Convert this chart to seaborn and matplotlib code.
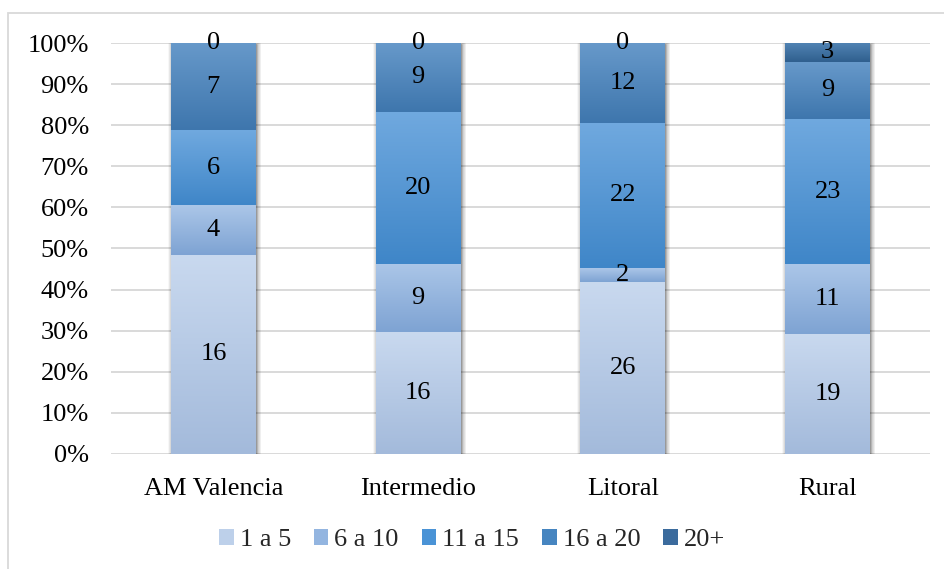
import numpy as np
import pandas as pd
import matplotlib
matplotlib.use("Agg")
import matplotlib.pyplot as plt
import matplotlib.transforms as mtransforms
import seaborn as sns
from matplotlib.colors import LinearSegmentedColormap
from matplotlib.patches import Rectangle, Patch
from matplotlib.ticker import PercentFormatter, MultipleLocator

# Data: number of cases per size band and territory
categories = ["AM Valencia", "Intermedio", "Litoral", "Rural"]
series = ["1 a 5", "6 a 10", "11 a 15", "16 a 20", "20+"]
counts_1_5 = [16, 16, 26, 19]
counts_6_10 = [4, 9, 2, 11]
counts_11_15 = [6, 20, 22, 23]
counts_16_20 = [7, 9, 12, 9]
counts_20plus = [0, 0, 0, 3]

# Gradient fills (top colour, bottom colour) and flat legend colours
grad_top = ["#c9d9ef", "#abc6e8", "#70a9df", "#6799ca", "#5183b3"]
grad_bottom = ["#a3badb", "#7ea3d3", "#3f86c8", "#3e76ad", "#2f5f8e"]
legend_colors = ["#bdd0ea", "#93b5e0", "#4a93d6", "#4685c0", "#3b6b9d"]

sns.set_theme(style="white")
plt.rcParams["font.family"] = ["Liberation Serif", "DejaVu Serif"]
FS = 19

df = pd.DataFrame(
    {
        series[0]: counts_1_5,
        series[1]: counts_6_10,
        series[2]: counts_11_15,
        series[3]: counts_16_20,
        series[4]: counts_20plus,
    },
    index=categories,
)
shares = df.div(df.sum(axis=1), axis=0)
bottoms = shares.cumsum(axis=1) - shares

fig = plt.figure(figsize=(9.44, 5.69), dpi=100)
ax = fig.add_axes([111 / 944, 1 - 454 / 569, 819 / 944, 411 / 569])

BAR_W = 0.415
for i, s in enumerate(series):
    sns.barplot(
        x=categories,
        y=shares[s].values,
        bottom=bottoms[s].values,
        color=legend_colors[i],
        width=BAR_W,
        errorbar=None,
        linewidth=0,
        zorder=3,
        ax=ax,
    )

# Vertical gradient inside every segment
grad = np.linspace(1, 0, 256).reshape(-1, 1)
for i, container in enumerate(ax.containers):
    cmap = LinearSegmentedColormap.from_list(f"g{i}", [grad_bottom[i], grad_top[i]])
    for patch in container.patches:
        h = patch.get_height()
        if h <= 0:
            continue
        x0, y0, w = patch.get_x(), patch.get_y(), patch.get_width()
        ax.imshow(grad, cmap=cmap, vmin=0, vmax=1, aspect="auto",
                  extent=[x0, x0 + w, y0, y0 + h], zorder=3.5,
                  interpolation="bicubic")

# Soft shadow behind each full column
px = 72 / 100  # one pixel in points
for j in range(len(categories)):
    x0 = j - BAR_W / 2
    off = mtransforms.offset_copy(ax.transData, fig=fig, x=1.0, y=-1.0, units="dots")
    for k in range(1, 9):
        ax.add_patch(Rectangle((x0, 0), BAR_W, 1, transform=off,
                               facecolor="#000000", edgecolor="#000000",
                               linewidth=k * px, alpha=0.03,
                               joinstyle="round", zorder=2.5))

# Value labels in the middle of each segment
for i, container in enumerate(ax.containers):
    labels = [str(v) for v in df[series[i]].values]
    txts = ax.bar_label(container, labels=labels, label_type="center",
                        fontsize=FS, color="black")
    for t in txts:
        t.set_zorder(6)

ax.set_xlim(-0.5, len(categories) - 0.5)
ax.set_ylim(0, 1)
ax.yaxis.set_major_locator(MultipleLocator(0.1))
ax.yaxis.set_major_formatter(PercentFormatter(1.0, decimals=0))
ax.grid(axis="y", color="#d9d9d9", linewidth=1.4, zorder=0)
ax.set_axisbelow(True)
for sp in ax.spines.values():
    sp.set_visible(False)
ax.tick_params(axis="y", length=0, pad=16, labelsize=FS, colors="black")
ax.tick_params(axis="x", length=0, pad=17, labelsize=FS, colors="black")
ax.set_xlabel("")
ax.set_ylabel("")

handles = [Patch(facecolor=c, edgecolor="none") for c in legend_colors]
fig.legend(handles, series, loc="center", bbox_to_anchor=(0.5, 1 - 540 / 569),
           ncol=5, frameon=False, fontsize=FS, handlelength=0.55,
           handleheight=0.55, handletextpad=0.23, columnspacing=0.87)

# Light frame around the chart area
fig.patches.append(Rectangle((8 / 944, -0.05), 1.0, 1 - 13 / 569 + 0.05,
                             transform=fig.transFigure, fill=False,
                             edgecolor="#d9d9d9", linewidth=1.3))

fig.savefig("out.png", dpi=100)
